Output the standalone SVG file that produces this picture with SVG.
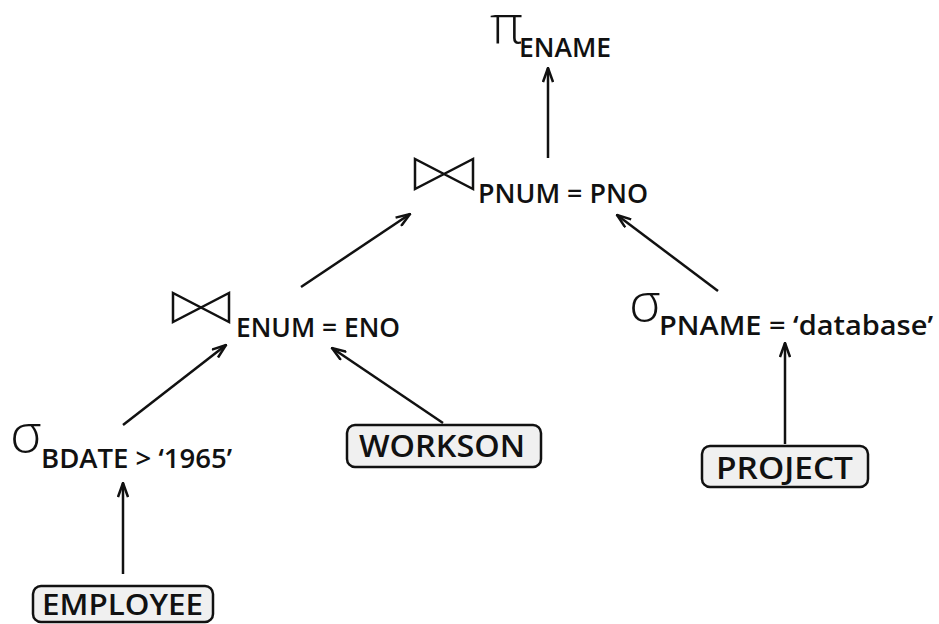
<svg xmlns="http://www.w3.org/2000/svg" width="939" height="624" viewBox="0 0 939 624">
  <style>
    .lbl { font-family: "Open Sans", "DejaVu Sans", sans-serif; font-weight: 600; font-size: 27px; fill: #111; }
    .rel { font-family: "Open Sans", "DejaVu Sans", sans-serif; font-weight: 600; font-size: 31px; fill: #111; }
    .sym { font-family: "Open Sans", "DejaVu Sans", sans-serif; font-weight: 300; font-size: 54px; fill: #111; }
    .box { fill: #f0f0f0; stroke: #111; stroke-width: 2.5; }
    .tie { fill: none; stroke: #111; stroke-width: 2.5; stroke-linejoin: miter; }
    .edge { fill: none; stroke: #111; stroke-width: 2.5; marker-end: url(#head); }
  </style>
  <defs>
    <marker id="head" viewBox="0 0 16 12" refX="15" refY="6" markerWidth="16" markerHeight="12" markerUnits="userSpaceOnUse" orient="auto">
      <path d="M1,1 L15,6 L1,11" fill="none" stroke="#111" stroke-width="2.5" stroke-linejoin="miter"/>
    </marker>
  </defs>

  <!-- operator nodes -->
  <g id="project-ename">
    <text class="sym" x="490" y="43">π</text>
    <text class="lbl" x="519" y="57" textLength="92" lengthAdjust="spacingAndGlyphs">ENAME</text>
  </g>

  <g id="join-pnum-pno">
    <path class="tie" d="M415,159 L415,189 L473,159 L473,189 Z"/>
    <text class="lbl" x="478" y="203" textLength="170" lengthAdjust="spacingAndGlyphs">PNUM = PNO</text>
  </g>

  <g id="join-enum-eno">
    <path class="tie" d="M173,293 L173,322 L229,293 L229,322 Z"/>
    <text class="lbl" x="236" y="337" textLength="164" lengthAdjust="spacingAndGlyphs">ENUM = ENO</text>
  </g>

  <g id="select-pname">
    <text class="sym" x="629" y="321">σ</text>
    <text class="lbl" x="659" y="335" textLength="274" lengthAdjust="spacingAndGlyphs">PNAME = ‘database’</text>
  </g>

  <g id="select-bdate">
    <text class="sym" x="10" y="452">σ</text>
    <text class="lbl" x="41" y="468" textLength="191" lengthAdjust="spacingAndGlyphs">BDATE &gt; ‘1965’</text>
  </g>

  <!-- base relations -->
  <g id="workson">
    <rect class="box" x="347" y="425" width="194" height="42" rx="8"/>
    <text class="rel" x="359" y="457" textLength="166" lengthAdjust="spacingAndGlyphs">WORKSON</text>
  </g>

  <g id="project">
    <rect class="box" x="702" y="446" width="166" height="41" rx="8"/>
    <text class="rel" x="716" y="479" textLength="137" lengthAdjust="spacingAndGlyphs">PROJECT</text>
  </g>

  <g id="employee">
    <rect class="box" x="33" y="586" width="180" height="36" rx="8"/>
    <text class="rel" x="42" y="615" style="font-size:28px" textLength="161" lengthAdjust="spacingAndGlyphs">EMPLOYEE</text>
  </g>

  <!-- connectors -->
  <g id="edges">
    <line class="edge" x1="548" y1="158" x2="548" y2="68"/>
    <line class="edge" x1="301" y1="287" x2="410" y2="214"/>
    <line class="edge" x1="718" y1="291" x2="617" y2="215"/>
    <line class="edge" x1="123" y1="425" x2="226" y2="345"/>
    <line class="edge" x1="443" y1="423" x2="332" y2="348"/>
    <line class="edge" x1="123" y1="574" x2="123" y2="483"/>
    <line class="edge" x1="785" y1="444" x2="785" y2="343"/>
  </g>
</svg>
